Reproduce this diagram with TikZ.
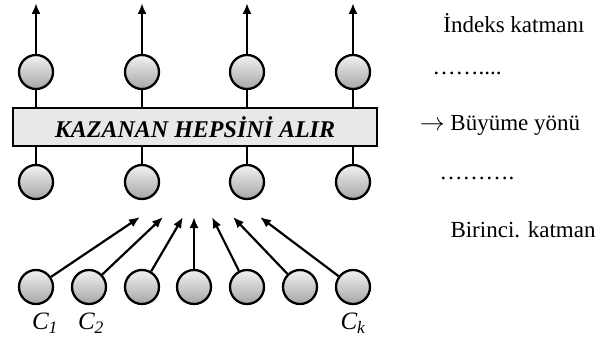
\documentclass[tikz,border=0pt]{standalone}
\usepackage{fontspec}
\setmainfont{Liberation Serif}
\usetikzlibrary{arrows.meta}
\begin{document}
\begin{tikzpicture}[x=1pt,y=-1pt,
  neuron/.style={circle,draw=black,line width=2.3pt,minimum size=34pt,inner sep=0pt,
    top color=gray!10,bottom color=gray!70,shading angle=0},
  conn/.style={line width=2.2pt,-{Latex[length=11pt,width=9pt]}},
  plain/.style={line width=2.2pt},
  lbl/.style={font=\fontsize{23}{27}\selectfont,inner sep=0pt},
  clbl/.style={font=\fontsize{25}{29}\selectfont\itshape,inner sep=0pt}]
\useasboundingbox (0,0) rectangle (607,342);
% top row
\foreach \i/\x in {1/36,2/142,3/247,4/353}{
  \node[neuron] (t\i) at (\x,72) {};
  \node[neuron] (m\i) at (\x,182) {};
  \coordinate (a\i) at (\x,3);
  \draw[conn] (t\i) -- (a\i);
  \draw[plain] (t\i) -- (m\i);
}
\node[draw=black,line width=2.6pt,fill=gray!18,minimum width=364pt,minimum height=38pt,
  inner sep=0pt,font=\fontsize{24}{28}\selectfont\bfseries\itshape] (kz) at (195,127)
  {KAZANAN HEPSİNİ ALIR};
% bottom row
\foreach \i/\x/\tx in {1/36/140,2/89/163,3/142/183,4/194/194,5/247/212,6/300/233,7/353/260}{
  \node[neuron] (b\i) at (\x,287) {};
  \coordinate (p\i) at (\tx,217);
  \draw[conn] (b\i) -- (p\i);
}
\node[clbl] (c1) at (45,323) {C\textsubscript{1}};
\node[clbl] (c2) at (91,323) {C\textsubscript{2}};
\node[clbl] (ck) at (353,323) {C\textsubscript{k}};
% right texts
\node[lbl] (r1) at (514,23) {İndeks katmanı};
\node[lbl] (r2) at (467,73) {……....};
\node[lbl] (r3) at (500,125) {$\rightarrow$ Büyüme yönü};
\node[lbl] (r4) at (477,178) {……….};
\node[lbl] (r5) at (523,230) {Birinci. katman};
\end{tikzpicture}
\end{document}
